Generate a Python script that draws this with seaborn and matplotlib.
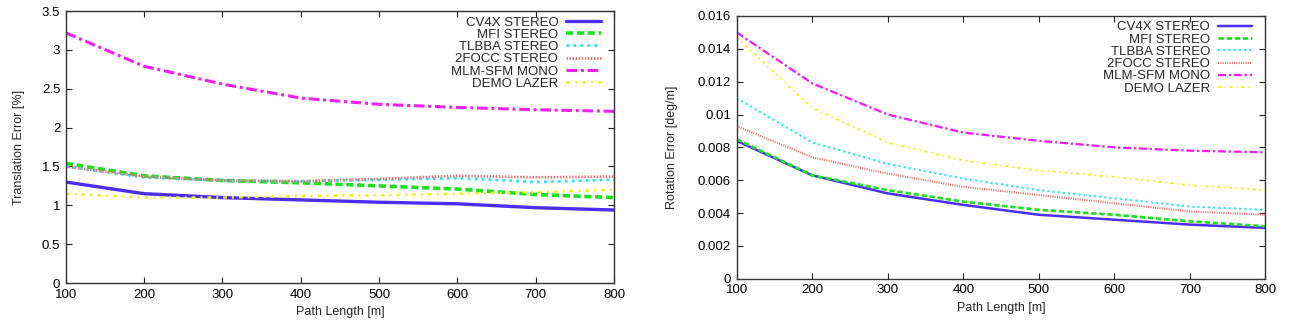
import numpy as np
import pandas as pd
import matplotlib
matplotlib.use("Agg")
import matplotlib.pyplot as plt
import seaborn as sns

sns.set_theme(style="white")
plt.rcParams["font.family"] = ["Liberation Sans", "DejaVu Sans"]

path_length = [100, 200, 300, 400, 500, 600, 700, 800]
methods = ["CV4X STEREO", "MFI STEREO", "TLBBA STEREO", "2FOCC STEREO",
           "MLM-SFM MONO", "DEMO LAZER"]

# translation error [%]
trans_cv4x = [1.30, 1.15, 1.10, 1.07, 1.04, 1.02, 0.97, 0.94]
trans_mfi = [1.54, 1.38, 1.32, 1.29, 1.25, 1.21, 1.14, 1.10]
trans_tlbba = [1.50, 1.36, 1.32, 1.31, 1.33, 1.35, 1.30, 1.33]
trans_2focc = [1.50, 1.37, 1.32, 1.31, 1.34, 1.38, 1.36, 1.37]
trans_mlm = [3.22, 2.79, 2.56, 2.38, 2.30, 2.26, 2.23, 2.21]
trans_demo = [1.15, 1.10, 1.10, 1.12, 1.13, 1.15, 1.17, 1.20]

# rotation error [deg/m]
rot_cv4x = [0.0084, 0.0063, 0.0052, 0.0045, 0.0039, 0.0036, 0.0033, 0.0031]
rot_mfi = [0.0085, 0.0063, 0.0054, 0.0047, 0.0042, 0.0039, 0.0035, 0.0032]
rot_tlbba = [0.0110, 0.0083, 0.0070, 0.0061, 0.0054, 0.0049, 0.0044, 0.0042]
rot_2focc = [0.0093, 0.0074, 0.0064, 0.0056, 0.0051, 0.0046, 0.0041, 0.0039]
rot_mlm = [0.0150, 0.0119, 0.0100, 0.0089, 0.0084, 0.0080, 0.0078, 0.0077]
rot_demo = [0.0147, 0.0104, 0.0083, 0.0072, 0.0066, 0.0062, 0.0057, 0.0054]

colors = {
    "CV4X STEREO": "#4b2ef2",
    "MFI STEREO": "#1ee01e",
    "TLBBA STEREO": "#22e8f0",
    "2FOCC STEREO": "#f06a6a",
    "MLM-SFM MONO": "#f020f0",
    "DEMO LAZER": "#f2f21a",
}
dash_patterns = {
    "CV4X STEREO": "-",
    "MFI STEREO": (0, (2.0, 1.0)),
    "TLBBA STEREO": (0, (1.0, 1.5)),
    "2FOCC STEREO": (0, (0.5, 0.6)),
    "MLM-SFM MONO": (0, (3.5, 1.2, 1.0, 1.2)),
    "DEMO LAZER": (0, (1.5, 2.0, 0.8, 2.0)),
}
widths = {
    "CV4X STEREO": 2.4,
    "MFI STEREO": 2.6,
    "TLBBA STEREO": 2.0,
    "2FOCC STEREO": 2.0,
    "MLM-SFM MONO": 2.2,
    "DEMO LAZER": 1.8,
}


def long_table(series):
    frames = []
    for name, vals in zip(methods, series):
        frames.append(pd.DataFrame({"length": path_length, "error": vals,
                                    "method": name}))
    return pd.concat(frames, ignore_index=True)


trans_df = long_table([trans_cv4x, trans_mfi, trans_tlbba, trans_2focc,
                       trans_mlm, trans_demo])
rot_df = long_table([rot_cv4x, rot_mfi, rot_tlbba, rot_2focc,
                     rot_mlm, rot_demo])

fig = plt.figure(figsize=(12.9, 3.25), dpi=100)
ax1 = fig.add_axes([0.051, 0.129, 0.425, 0.837])
ax2 = fig.add_axes([0.571, 0.142, 0.410, 0.809])


def draw(ax, df, ylim, yticks, yticklabels, ylabel, lw_scale, ylabelpad):
    for name in methods:
        sub = df[df["method"] == name]
        sns.lineplot(data=sub, x="length", y="error", ax=ax,
                     color=colors[name], label=name,
                     linestyle=dash_patterns[name],
                     linewidth=widths[name] * lw_scale)
    ax.set_xlim(100, 800)
    ax.set_ylim(*ylim)
    ax.set_xticks(path_length)
    ax.set_xticklabels([str(v) for v in path_length])
    ax.set_yticks(yticks)
    ax.set_yticklabels(yticklabels)
    ax.set_xlabel("Path Length [m]", fontsize=9, labelpad=4)
    ax.set_ylabel(ylabel, fontsize=9, labelpad=ylabelpad)
    ax.tick_params(direction="in", length=4, width=0.8, top=True, right=True,
                   bottom=True, left=True, labelsize=9.5, colors="#222222",
                   labelcolor="black", pad=4)
    for sp in ax.spines.values():
        sp.set_color("#333333")
        sp.set_linewidth(1.0)
    ax.grid(False)
    ax.legend(loc="upper right", bbox_to_anchor=(0.985, 1.0), frameon=False,
              markerfirst=False, fontsize=9.5, handlelength=2.6,
              labelspacing=0.0, handletextpad=0.6, borderaxespad=0.0)


draw(ax1, trans_df, (0, 3.5), [0, 0.5, 1, 1.5, 2, 2.5, 3, 3.5],
     ["0", "0.5", "1", "1.5", "2", "2.5", "3", "3.5"], "Translation Error [%]",
     1.0, 12)
draw(ax2, rot_df, (0, 0.016),
     [0, 0.002, 0.004, 0.006, 0.008, 0.01, 0.012, 0.014, 0.016],
     ["0", "0.002", "0.004", "0.006", "0.008", "0.01", "0.012", "0.014",
      "0.016"], "Rotation Error [deg/m]", 0.75, 14)

fig.savefig("out.png", dpi=100)
